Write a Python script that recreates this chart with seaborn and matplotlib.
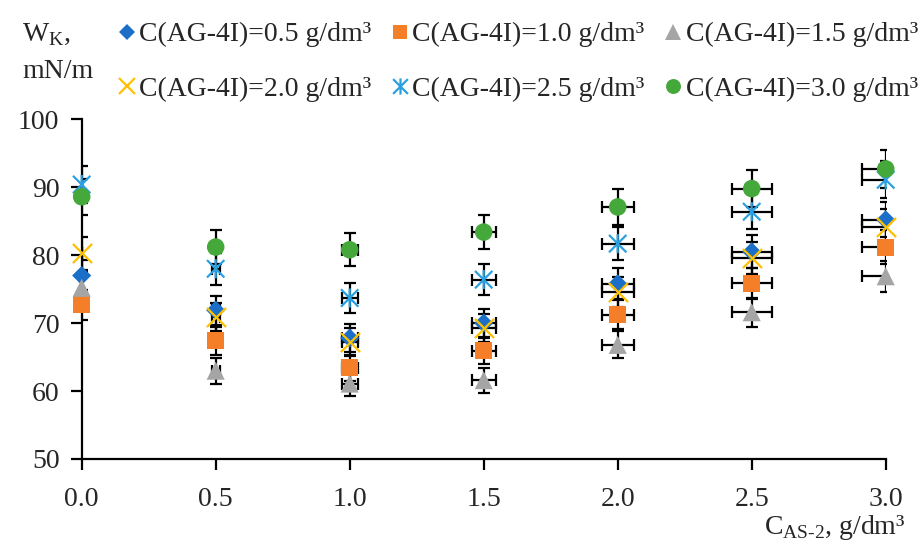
import numpy as np
import pandas as pd
import matplotlib
matplotlib.use("Agg")
import matplotlib.pyplot as plt
from matplotlib.path import Path
from matplotlib.lines import Line2D
import seaborn as sns

# surfactant AS-2 concentration, g/dm3
c_as2 = [0.0, 0.5, 1.0, 1.5, 2.0, 2.5, 3.0]

# W_K, mN/m for each AG-4I concentration
w_05 = [77.0, 71.9, 67.8, 70.0, 75.8, 80.5, 85.2]
w_10 = [72.7, 67.4, 63.4, 65.9, 71.2, 75.9, 81.2]
w_15 = [75.2, 63.0, 61.1, 61.6, 66.8, 71.6, 76.9]
w_20 = [80.3, 70.9, 67.2, 69.3, 74.6, 79.6, 84.2]
w_25 = [90.4, 78.0, 73.7, 76.4, 81.7, 86.4, 91.1]
w_30 = [88.6, 81.2, 80.8, 83.4, 87.1, 89.8, 92.7]

labels = ["C(AG-4I)=0.5 g/dm³", "C(AG-4I)=1.0 g/dm³", "C(AG-4I)=1.5 g/dm³",
          "C(AG-4I)=2.0 g/dm³", "C(AG-4I)=2.5 g/dm³", "C(AG-4I)=3.0 g/dm³"]

err_pct = 3.0  # percentage error bars, both directions

star = Path([(-1, -1), (1, 1), (-1, 1), (1, -1), (0, -1.1), (0, 1.1)],
            [Path.MOVETO, Path.LINETO, Path.MOVETO, Path.LINETO, Path.MOVETO, Path.LINETO])

styles = [
    dict(marker="D", color="#1B6FC8", s=95, kind="filled"),
    dict(marker="s", color="#F57E28", s=150, kind="filled"),
    dict(marker="^", color="#A5A5A5", s=170, kind="filled"),
    dict(marker="x", color="#FFC000", s=190, kind="line"),
    dict(marker=star, color="#2AA0E0", s=190, kind="path"),
    dict(marker="o", color="#45A83A", s=160, kind="filled"),
]

series = [w_05, w_10, w_15, w_20, w_25, w_30]

sns.set_style("white")
plt.rcParams["font.family"] = ["Liberation Serif", "DejaVu Serif"]
plt.rcParams["mathtext.fontset"] = "custom"
plt.rcParams["mathtext.rm"] = "Liberation Serif"

fig = plt.figure(figsize=(9.23, 5.43), dpi=100)
ax = fig.add_axes([0.0885, 0.1547, 0.9596 - 0.0885, 0.7803 - 0.1547])

x = np.array(c_as2)
for vals, st in zip(series, styles):
    y = np.array(vals)
    ax.errorbar(x, y, yerr=y * err_pct / 100, xerr=x * err_pct / 100, fmt="none",
                ecolor="black", elinewidth=1.6, capsize=4, capthick=1.6, zorder=2)
    df = pd.DataFrame({"c": x, "w": y})
    if st["kind"] == "filled":
        sns.scatterplot(data=df, x="c", y="w", marker=st["marker"], color=st["color"],
                        s=st["s"], edgecolor="none", linewidth=0, ax=ax, zorder=3,
                        clip_on=False, legend=False)
    elif st["kind"] == "line":
        sns.scatterplot(data=df, x="c", y="w", marker=st["marker"], color=st["color"],
                        s=st["s"], linewidth=1.6, ax=ax, zorder=3,
                        clip_on=False, legend=False)
    else:
        sns.scatterplot(data=df, x="c", y="w", marker=st["marker"], facecolor="none",
                        edgecolor=st["color"], s=st["s"], linewidth=1.6, ax=ax, zorder=3,
                        clip_on=False, legend=False)

ax.set_xlim(0, 3.0)
ax.set_ylim(50, 100)
ax.set_xticks(c_as2)
ax.set_xticklabels([f"{v:.1f}" for v in c_as2])
ax.set_yticks(range(50, 101, 10))
ax.set_xlabel("")
ax.set_ylabel("")
sns.despine(ax=ax)
for sp in ["left", "bottom"]:
    ax.spines[sp].set_color("black")
    ax.spines[sp].set_linewidth(1.6)
ax.tick_params(axis="both", direction="out", length=8, width=1.6, color="black",
               labelsize=20, left=True, bottom=True)
ax.tick_params(axis="x", pad=12)
ax.tick_params(axis="y", pad=8)

# legend, row-major order in 3 columns
handles = []
for st in styles:
    ms = np.sqrt(st["s"]) * 0.85
    if st["kind"] == "filled":
        h = Line2D([], [], ls="none", marker=st["marker"], color=st["color"],
                   markersize=ms, markeredgewidth=0)
    elif st["kind"] == "line":
        h = Line2D([], [], ls="none", marker=st["marker"], color=st["color"],
                   markersize=ms, markeredgewidth=1.6)
    else:
        h = Line2D([], [], ls="none", marker=st["marker"], markerfacecolor="none",
                   markeredgecolor=st["color"], markersize=ms, markeredgewidth=1.6)
    handles.append(h)
order = [0, 3, 1, 4, 2, 5]
fig.legend([handles[i] for i in order], [labels[i] for i in order],
           ncol=3, loc="upper left", bbox_to_anchor=(0.109, 0.993), frameon=False,
           fontsize=20, handlelength=0.6, handletextpad=0.15, columnspacing=0.72,
           labelspacing=1.05, borderaxespad=0.25)

fig.text(22 / 923, 1 - 35 / 543, "W$_\\mathregular{K}$,", fontsize=20, va="center", ha="left")
fig.text(22 / 923, 1 - 72 / 543, "mN/m", fontsize=20, va="center", ha="left")
fig.text(905 / 923, 1 - 527 / 543, "C$_\\mathregular{AS\\text{-}2}$, g/dm³", fontsize=20,
         va="center", ha="right")

fig.savefig("out.png", dpi=100)
